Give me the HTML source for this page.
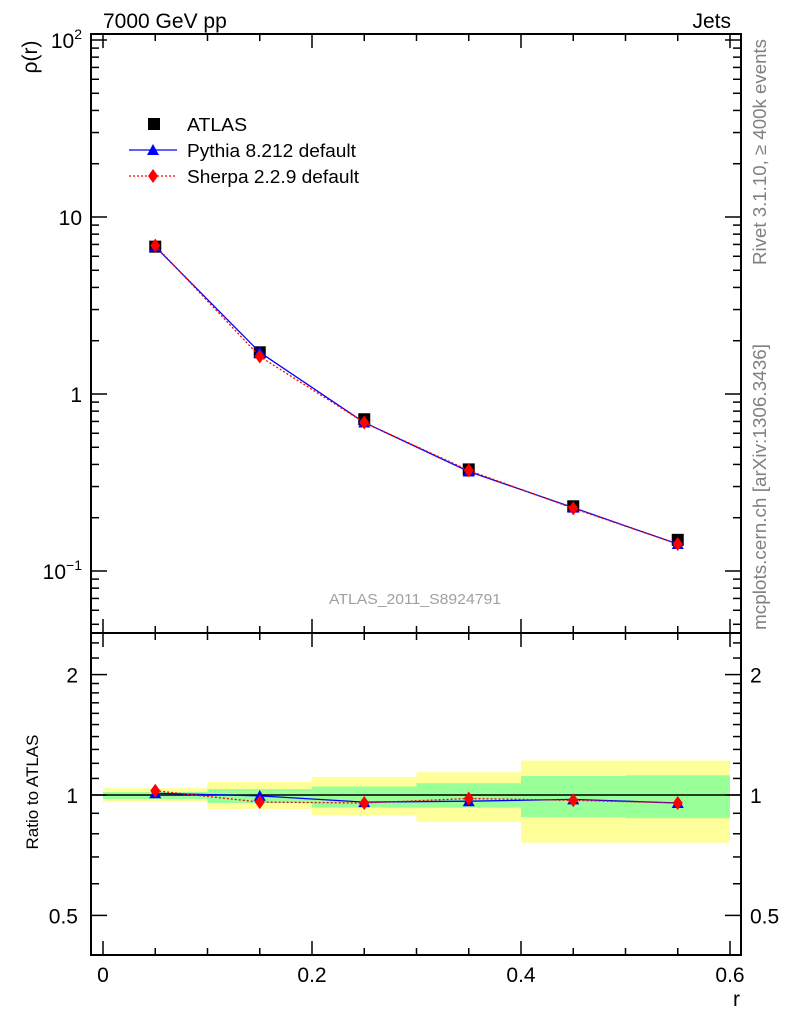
<!DOCTYPE html>
<html><head><meta charset="utf-8"><style>
body{margin:0;background:#fff;font-family:"Liberation Sans",sans-serif}
svg text{font-family:"Liberation Sans",sans-serif}
</style></head><body>
<svg id="c" width="786" height="1024" xmlns="http://www.w3.org/2000/svg"></svg>
<script>
const binEdges=[0,0.1,0.2,0.3,0.4,0.5,0.6];
const rVals=[0.05,0.15,0.25,0.35,0.45,0.55];
const atlas=[6.8,1.72,0.72,0.375,0.232,0.15];
const pythia=[6.8,1.72,0.69,0.365,0.228,0.142];
const sherpa=[6.9,1.63,0.69,0.37,0.226,0.142];
const pythiaRatio=[1.01,0.995,0.96,0.965,0.975,0.955];
const sherpaRatio=[1.025,0.96,0.955,0.98,0.97,0.955];
const bandYellowHi=[1.04,1.078,1.11,1.14,1.22,1.22];
const bandYellowLo=[0.96,0.923,0.89,0.856,0.76,0.76];
const bandGreenHi=[1.017,1.035,1.05,1.07,1.116,1.12];
const bandGreenLo=[0.977,0.955,0.93,0.93,0.88,0.875];
const xTicks=[0,0.2,0.4,0.6];
const ratioTicks=[0.5,1,2];

const S=document.getElementById('c');const NS='http://www.w3.org/2000/svg';
function el(t,a,p){const e=document.createElementNS(NS,t);for(const k in a)e.setAttribute(k,a[k]);(p||S).appendChild(e);return e;}
const X=v=>103+v*1045;
const Y=v=>394-Math.log10(v)*177;
const R=v=>795-Math.log10(v)*400;
const L=91,Rr=741,T=34,M=633,B=955;

for(let i=0;i<6;i++){
 let e=el('rect',{x:X(binEdges[i]),y:R(bandYellowHi[i]),width:X(binEdges[i+1])-X(binEdges[i]),height:R(bandYellowLo[i])-R(bandYellowHi[i]),fill:'#ffff99'});
 
 
 e=el('rect',{x:X(binEdges[i]),y:R(bandGreenHi[i]),width:X(binEdges[i+1])-X(binEdges[i]),height:R(bandGreenLo[i])-R(bandGreenHi[i]),fill:'#99ff99'});
 
 
}
el('line',{x1:L,x2:Rr,y1:R(1),y2:R(1),stroke:'#000','stroke-width':1.5});

el('rect',{x:L,y:T,width:Rr-L,height:M-T,fill:'none',stroke:'#000','stroke-width':2});
el('rect',{x:L,y:M,width:Rr-L,height:B-M,fill:'none',stroke:'#000','stroke-width':2});

for(let k=0;k<=12;k++){const v=k*0.05;const big=xTicks.some(t=>Math.abs(t-v)<1e-6);const len=big?14:7;
 for(const [y0,dir] of [[T,1],[M,-1],[M,1],[B,-1]]) el('line',{x1:X(v),x2:X(v),y1:y0,y2:y0+dir*len,stroke:'#000','stroke-width':1.5});}
xTicks.forEach(t=>{const e=el('text',{x:X(t),y:982,'font-size':21,'text-anchor':'middle'});e.textContent=t===0?'0':t.toString();});
let e=el('text',{x:740,y:1006,'font-size':21,'text-anchor':'end'});e.textContent='r';

for(let d=-2;d<=2;d++)for(let m=1;m<10;m++){const v=m*Math.pow(10,d);const y=Y(v);if(y<T||y>M)continue;const len=m===1?16:8;
 el('line',{x1:L,x2:L+len,y1:y,y2:y,stroke:'#000','stroke-width':1.5});el('line',{x1:Rr,x2:Rr-len,y1:y,y2:y,stroke:'#000','stroke-width':1.5});}
[['10',10],['1',1]].forEach(([t,v])=>{const e=el('text',{x:82,y:Y(v)+8,'font-size':21,'text-anchor':'end'});e.textContent=t;});
e=el('text',{x:82,y:Y(100)+8,'font-size':21,'text-anchor':'end'});e.innerHTML='10<tspan dy="-9" font-size="14">2</tspan>';
e=el('text',{x:82,y:Y(0.1)+8,'font-size':21,'text-anchor':'end'});e.innerHTML='10<tspan dy="-9" font-size="14">−1</tspan>';
e=el('text',{x:0,y:0,'font-size':21,transform:'translate(37,57) rotate(-90)','text-anchor':'middle'});e.textContent='ρ(r)';

[0.5,0.6,0.7,0.8,0.9,1,1.1,1.2,1.3,1.4,1.5,1.6,1.7,1.8,1.9,2,2.2,2.4].forEach(v=>{const y=R(v);if(y<M||y>B)return;const len=ratioTicks.includes(v)?16:8;
 el('line',{x1:L,x2:L+len,y1:y,y2:y,stroke:'#000','stroke-width':1.5});el('line',{x1:Rr,x2:Rr-len,y1:y,y2:y,stroke:'#000','stroke-width':1.5});});
ratioTicks.forEach(v=>{let e=el('text',{x:78,y:R(v)+8,'font-size':21,'text-anchor':'end'});e.textContent=String(v);
 e=el('text',{x:750,y:R(v)+8,'font-size':21});e.textContent=String(v);});
e=el('text',{x:0,y:0,'font-size':17,transform:'translate(38,792) rotate(-90)','text-anchor':'middle'});e.textContent='Ratio to ATLAS';

function tri(x,y,c){return el('polygon',{points:`${x-6},${y+5} ${x+6},${y+5} ${x},${y-6}`,fill:c});}
function dia(x,y,c){return el('polygon',{points:`${x},${y-7} ${x+5},${y} ${x},${y+7} ${x-5},${y}`,fill:c});}
function line(vals,f,col,dash){return el('polyline',{points:vals.map((v,i)=>X(rVals[i])+','+f(v)).join(' '),fill:'none',stroke:col,'stroke-width':1.3,'stroke-dasharray':dash||''});}

atlas.forEach((v,i)=>{const e=el('rect',{x:X(rVals[i])-6,y:Y(v)-6,width:12,height:12,fill:'#000'});});
let p=line(pythia,Y,'#0000ff');
pythia.forEach((v,i)=>{const e=tri(X(rVals[i]),Y(v),'#0000ff');});
p=line(sherpa,Y,'#ff0000','2,2');
sherpa.forEach((v,i)=>{const e=dia(X(rVals[i]),Y(v),'#ff0000');});

p=line(pythiaRatio,R,'#0000ff');
pythiaRatio.forEach((v,i)=>{const e=tri(X(rVals[i]),R(v),'#0000ff');});
p=line(sherpaRatio,R,'#ff0000','2,2');
sherpaRatio.forEach((v,i)=>{const e=dia(X(rVals[i]),R(v),'#ff0000');});

let g=el('g',{});
el('rect',{x:148,y:118,width:12,height:12,fill:'#000'},g);
el('line',{x1:129,x2:177,y1:150,y2:150,stroke:'#0000ff','stroke-width':1.3},g);tri(153,150,'#0000ff');
el('line',{x1:129,x2:177,y1:176,y2:176,stroke:'#ff0000','stroke-width':1.3,'stroke-dasharray':'2,2'},g);dia(153,176,'#ff0000');
[['ATLAS',131,60],['Pythia 8.212 default',157,169],['Sherpa 2.2.9 default',183,172]].forEach(([t,y,w])=>{const e=el('text',{x:187,y:y,'font-size':18,textLength:w,lengthAdjust:'spacingAndGlyphs'},g);e.textContent=t;});

e=el('text',{x:103,y:28,'font-size':21});e.textContent='7000 GeV pp';
e=el('text',{x:731,y:28,'font-size':21,'text-anchor':'end'});e.textContent='Jets';
e=el('text',{x:415,y:604,'font-size':15,fill:'#a0a0a0','text-anchor':'middle',textLength:172,lengthAdjust:'spacingAndGlyphs'});e.textContent='ATLAS_2011_S8924791';
e=el('text',{x:0,y:0,'font-size':18,fill:'#808080',transform:'translate(766,265) rotate(-90)',textLength:226,lengthAdjust:'spacingAndGlyphs'});e.textContent='Rivet 3.1.10, ≥ 400k events';
e=el('text',{x:0,y:0,'font-size':18,fill:'#808080',transform:'translate(766,630) rotate(-90)',textLength:286,lengthAdjust:'spacingAndGlyphs'});e.textContent='mcplots.cern.ch [arXiv:1306.3436]';
</script>
</body></html>
